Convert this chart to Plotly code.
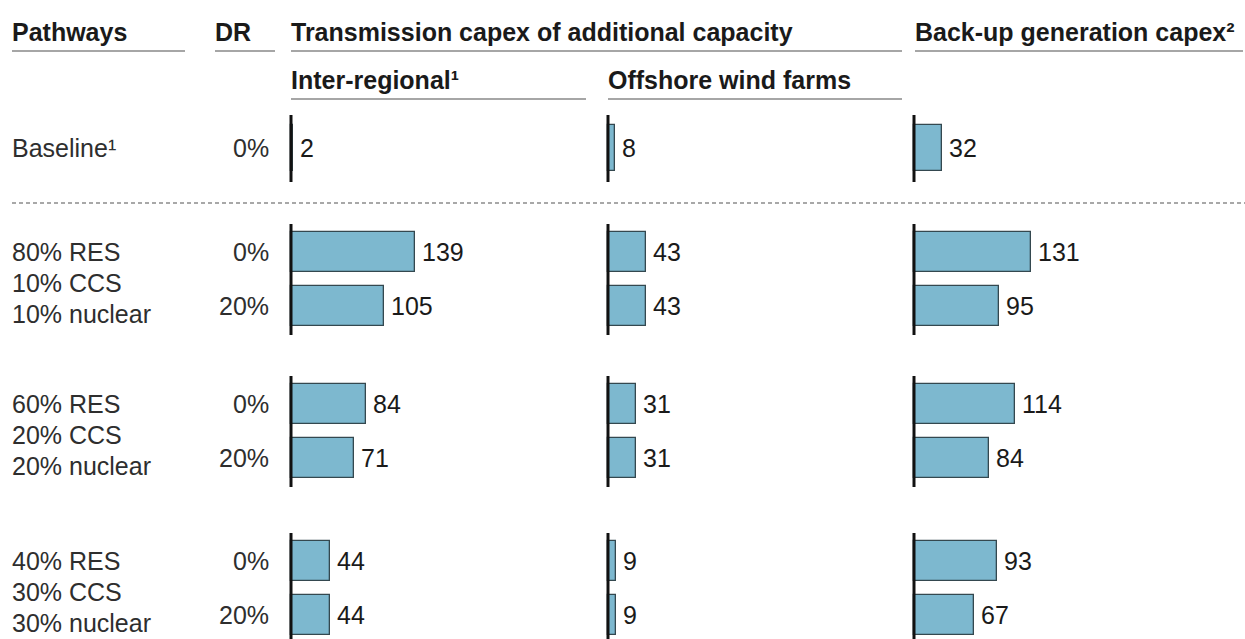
import plotly.graph_objects as go

# ---- data -------------------------------------------------------------
pathway_lines = [
    ["80% RES", "10% CCS", "10% nuclear"],
    ["60% RES", "20% CCS", "20% nuclear"],
    ["40% RES", "30% CCS", "30% nuclear"],
]
dr_levels = ["0%", "20%"]

baseline_label = "Baseline¹"
baseline_dr = "0%"
baseline_inter = 2
baseline_offshore = 8
baseline_backup = 32

# two DR rows per pathway, in pathway order
inter_regional = [139, 105, 84, 71, 44, 44]
offshore_wind = [43, 43, 31, 31, 9, 9]
backup_generation = [131, 95, 114, 84, 93, 67]

# ---- layout constants (pixels) ----------------------------------------
W, H = 1245, 639
PX_PER_UNIT = 0.89
PANEL_W = 300
PAD = 4                            # room left of the zero line for its stroke
PANEL_X = [291, 608, 914]          # zero line of each panel
BASE_Y = 148                       # baseline row centre
GROUP_Y = [252, 404, 561]          # first DR row centre of each pathway
ROW_GAP = 54                       # between DR rows
LINE_GAP = 31                      # between pathway text lines
BAR_H, BASE_BAR_H = 40, 46

FONT = "Arial, Liberation Sans, Helvetica, sans-serif"
FS = 25
TXT = "#2e2e2e"
HEAD = "#1a1a1a"
BAR_FILL = "#7db8cf"
BAR_EDGE = "#34484f"

fig = go.Figure()

axes = ["x", "x2", "x3"]
series = [inter_regional, offshore_wind, backup_generation]
baselines = [baseline_inter, baseline_offshore, baseline_backup]

row_y = [g + i * ROW_GAP for g in GROUP_Y for i in range(len(dr_levels))]

annotations = []
shapes = []

for ax, vals, bval in zip(axes, series, baselines):
    xs = [bval] + list(vals)
    ys = [BASE_Y] + row_y
    widths = [BASE_BAR_H] + [BAR_H] * len(vals)
    fig.add_trace(go.Bar(
        x=xs, y=ys, width=widths, orientation="h",
        marker=dict(color=BAR_FILL, line=dict(color=BAR_EDGE, width=1.3)),
        xaxis=ax, yaxis="y", hoverinfo="skip", showlegend=False,
    ))
    for v, y in zip(xs, ys):
        annotations.append(dict(
            x=v, y=y, xref=ax, yref="y", xanchor="left", yanchor="middle",
            xshift=5, text=str(v), showarrow=False,
            font=dict(family=FONT, size=FS, color=HEAD),
        ))
    # zero lines for each row block
    blocks = [(115, 182)] + [(g - 28, g + ROW_GAP + 29) for g in GROUP_Y]
    for y0, y1 in blocks:
        shapes.append(dict(type="line", xref=ax, yref="y", x0=0, x1=0,
                           y0=y0, y1=y1, line=dict(color="#111111", width=3)))

# ---- row labels ------------------------------------------------------
def label(text, x, y, anchor="left", bold=False, color=TXT):
    annotations.append(dict(
        x=x / W, y=y, xref="paper", yref="y", xanchor=anchor, yanchor="middle",
        text=f"<b>{text}</b>" if bold else text, showarrow=False,
        font=dict(family=FONT, size=FS, color=color),
    ))

label(baseline_label, 10, BASE_Y)
label(baseline_dr, 271, BASE_Y, anchor="right")
for lines, g in zip(pathway_lines, GROUP_Y):
    for j, t in enumerate(lines):
        label(t, 10, g + j * LINE_GAP)
    for i, d in enumerate(dr_levels):
        label(d, 271, g + i * ROW_GAP, anchor="right")

# ---- headers -----------------------------------------------------------
label("Pathways", 10, 32, bold=True, color=HEAD)
label("DR", 213, 32, bold=True, color=HEAD)
label("Transmission capex of additional capacity", 289, 32, bold=True, color=HEAD)
label("Back-up generation capex²", 913, 32, bold=True, color=HEAD)
label("Inter-regional¹", 289, 80, bold=True, color=HEAD)
label("Offshore wind farms", 606, 80, bold=True, color=HEAD)

rule = dict(color="#a6a6a6", width=2)
for x0, x1, y in [(12, 185, 51), (215, 275, 51), (291, 902, 51),
                  (915, 1243, 51), (291, 586, 99), (608, 902, 99)]:
    shapes.append(dict(type="line", xref="paper", yref="y",
                       x0=x0 / W, x1=x1 / W, y0=y, y1=y, line=rule))

# dashed separator below the baseline row
shapes.append(dict(type="line", xref="paper", yref="y", x0=12 / W, x1=1.0,
                   y0=203, y1=203,
                   line=dict(color="#8c8c8c", width=1.5, dash="4px,3px")))

# ---- axes --------------------------------------------------------------
def xaxis(zero):
    return dict(domain=[(zero - PAD) / W, (zero + PANEL_W) / W],
                range=[-PAD / PX_PER_UNIT, PANEL_W / PX_PER_UNIT],
                visible=False, fixedrange=True)

fig.update_layout(
    width=W, height=H,
    margin=dict(l=0, r=0, t=0, b=0),
    paper_bgcolor="white", plot_bgcolor="white",
    xaxis=dict(xaxis(PANEL_X[0]), anchor="y"),
    xaxis2=dict(xaxis(PANEL_X[1]), anchor="y"),
    xaxis3=dict(xaxis(PANEL_X[2]), anchor="y"),
    yaxis=dict(range=[H, 0], domain=[0, 1], visible=False, fixedrange=True),
    bargap=0,
    annotations=annotations,
    shapes=shapes,
    showlegend=False,
)

fig.write_html("out.html", config={"displayModeBar": False})
